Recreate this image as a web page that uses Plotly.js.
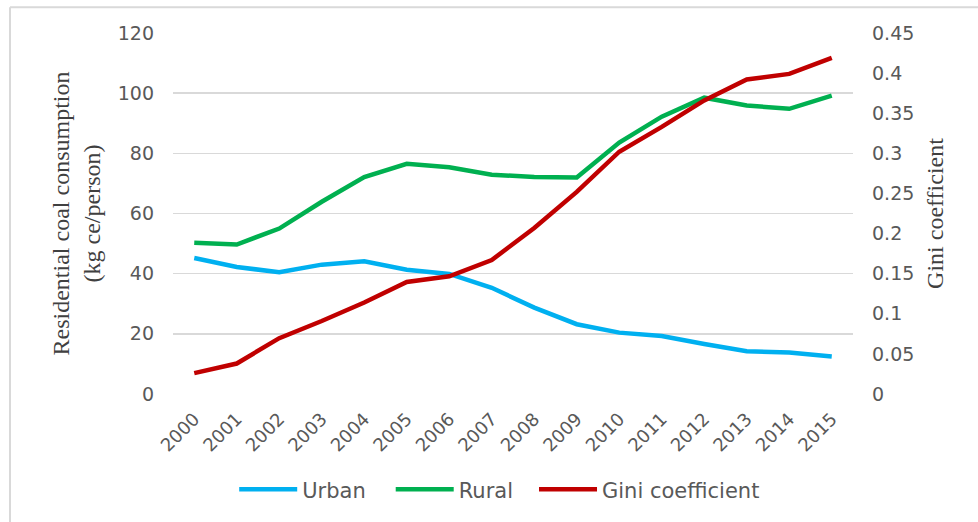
<!DOCTYPE html>
<html>
<head>
<meta charset="utf-8">
<script src="https://cdn.plot.ly/plotly-3.0.1.min.js"></script>
<style>html,body{margin:0;padding:0;background:#fff;}#chart{width:978px;height:522px;}</style>
</head>
<body>
<div id="chart"></div>
<script>
const years = ["2000","2001","2002","2003","2004","2005","2006","2007","2008","2009","2010","2011","2012","2013","2014","2015"];
const urban = [45.2, 42.2, 40.5, 43.0, 44.1, 41.3, 39.9, 35.3, 28.7, 23.2, 20.4, 19.3, 16.6, 14.2, 13.8, 12.5];
const rural = [50.3, 49.7, 55.0, 63.9, 72.1, 76.5, 75.4, 72.9, 72.1, 72.0, 83.6, 92.2, 98.5, 95.9, 94.8, 99.2];
const gini = [0.026, 0.038, 0.0696, 0.091, 0.114, 0.1397, 0.1467, 0.167, 0.207, 0.252, 0.302, 0.333, 0.366, 0.392, 0.399, 0.419];
const leftTicks = [0, 20, 40, 60, 80, 100, 120];
const rightTicks = [0, 0.05, 0.1, 0.15, 0.2, 0.25, 0.3, 0.35, 0.4, 0.45];

const sans = "DejaVu Sans, Arial, sans-serif";
const tickFont = {family: sans, size: 19, color: "#595959"};
const titleFont = {family: "Liberation Serif, Times New Roman, serif", size: 24, color: "#404040"};

const traces = [
  {x: years, y: urban, name: "Urban", type: "scatter", mode: "lines", line: {color: "#00B0F0", width: 4.5}, yaxis: "y"},
  {x: years, y: rural, name: "Rural", type: "scatter", mode: "lines", line: {color: "#00B050", width: 4.5}, yaxis: "y"},
  {x: years, y: gini, name: "Gini coefficient", type: "scatter", mode: "lines", line: {color: "#C00000", width: 4.5}, yaxis: "y2"}
];

const layout = {
  width: 978, height: 522,
  margin: {l: 173, r: 125, t: 33, b: 125},
  paper_bgcolor: "#fff", plot_bgcolor: "#fff",
  showlegend: true,
  legend: {orientation: "h", x: 0.09, xanchor: "left", y: -0.265, yanchor: "middle",
           bgcolor: "rgba(0,0,0,0)",
           font: {family: sans, size: 21, color: "#595959"}, itemwidth: 58, traceorder: "normal"},
  xaxis: {type: "category", range: [-0.5, 15.5], tickangle: -45, tickfont: {family: sans, size: 18, color: "#595959"},
          showgrid: false, showline: false, zeroline: false, ticks: "", ticklabelstandoff: 10},
  yaxis: {range: [0, 120], tickvals: leftTicks, ticktext: leftTicks.map(String), tickfont: tickFont,
          showgrid: true, gridcolor: "#d9d9d9", gridwidth: 1.5, zeroline: false, showline: false, ticks: "",
          ticklabelstandoff: 18,
          title: {text: "Residential coal consumption<br>(kg ce/person)", font: titleFont, standoff: 10}},
  yaxis2: {range: [0, 0.45], overlaying: "y", side: "right", tickvals: rightTicks, ticktext: rightTicks.map(String),
           tickfont: tickFont, showgrid: false, zeroline: false, showline: false, ticks: "", ticklabelstandoff: 18,
           title: {text: "Gini coefficient", font: titleFont, standoff: 12}},
  shapes: [
    {type: "line", xref: "paper", yref: "paper", x0: -0.2397, x1: 1.19, y0: 1.0714, y1: 1.0714, line: {color: "#d9d9d9", width: 2}},
    {type: "line", xref: "paper", yref: "paper", x0: -0.2397, x1: -0.2397, y0: 1.0714, y1: -0.36, line: {color: "#d9d9d9", width: 2}}
  ]
};

const legendShift = [0, 20, 36];

Plotly.newPlot("chart", traces, layout, {displayModeBar: false, staticPlot: true}).then(function (gd) {
  gd.querySelectorAll(".legend .legendlines path").forEach(function (p) {
    p.setAttribute("d", "M5,0h58");
  });
  gd.querySelectorAll(".legend .traces").forEach(function (g, i) {
    const t = g.getAttribute("transform") || "";
    const m = t.match(/translate\(\s*([-\d.]+)[ ,]+([-\d.]+)\s*\)/);
    if (m) {
      g.setAttribute("transform", "translate(" + (parseFloat(m[1]) + (legendShift[i] || 0)) + "," + m[2] + ")");
    }
  });
  gd.querySelectorAll(".legend [clip-path], .legend .scrollbox").forEach(function (el) {
    el.removeAttribute("clip-path");
  });
});
</script>
</body>
</html>
